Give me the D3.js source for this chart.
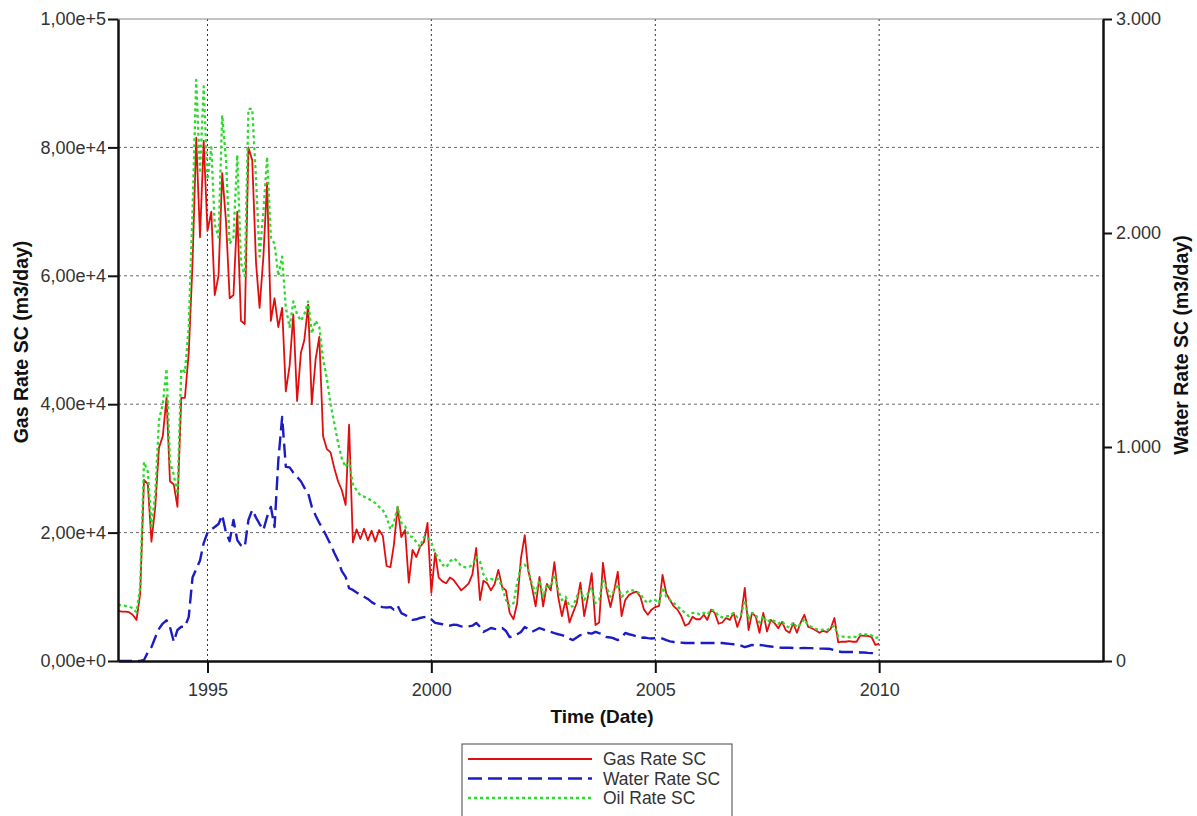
<!DOCTYPE html>
<html>
<head>
<meta charset="utf-8">
<script src="https://cdn.jsdelivr.net/npm/d3@7"></script>
<style>
  body { margin: 0; background: #fff; }
  svg { display: block; }
  text { font-family: "Liberation Sans", Arial, sans-serif; }
</style>
</head>
<body>
<svg id="chart" width="1197" height="816"></svg>
<script>
// Monthly well rates, starting January 1993.
const firstMonth = "1993-01";

// Gas rate, thousands of m3/day (one row per year)
const gasRateK = [
  7.8, 7.7, 7.7, 7.6, 7.2, 6.4, 10.5, 28.2, 27.6, 18.6, 24.0, 33.2,
  35.0, 41.0, 28.0, 27.5, 24.0, 41.0, 41.0, 48.0, 62.0, 81.5, 66.0, 81.0,
  67.0, 70.0, 57.0, 60.0, 76.0, 68.5, 56.5, 57.0, 70.0, 53.0, 52.5, 80.0,
  78.0, 62.0, 55.0, 63.0, 74.5, 53.0, 56.5, 52.0, 55.0, 42.0, 46.0, 54.0,
  40.5, 48.0, 50.0, 55.5, 40.0, 47.0, 50.5, 35.0, 33.0, 32.5, 30.0, 28.0,
  26.6, 24.3, 36.8, 18.5, 20.5, 19.0, 20.6, 18.8, 20.3, 18.6, 20.4, 19.5,
  14.8, 14.6, 18.0, 24.0, 19.3, 20.4, 12.2, 17.3, 16.2, 17.8, 18.5, 21.5,
  10.6, 16.8, 13.0, 12.4, 12.1, 13.0, 12.6, 11.8, 11.0, 11.5, 12.1, 13.5,
  17.6, 9.5, 12.5, 12.1, 11.0, 12.0, 14.2, 11.5, 11.0, 7.5, 6.5, 9.0,
  16.0, 19.6, 14.2, 11.5, 8.5, 13.1, 8.5, 12.0, 11.0, 15.4, 10.0, 7.0,
  9.5, 6.0, 7.5, 9.0, 12.2, 7.0, 10.0, 13.7, 5.6, 6.0, 15.3, 11.0,
  8.4, 11.0, 13.9, 7.0, 9.5, 10.3, 10.6, 10.8, 10.0, 8.0, 7.2, 8.0,
  8.4, 8.6, 13.4, 10.5, 9.5, 8.5, 8.0, 7.0, 5.5, 5.8, 6.9, 6.5,
  6.5, 7.2, 6.4, 8.0, 7.5, 5.8, 6.0, 6.7, 6.4, 7.5, 5.3, 6.9,
  11.4, 4.8, 7.5, 6.9, 4.4, 7.5, 4.6, 6.4, 5.9, 5.1, 6.1, 4.8,
  4.4, 5.9, 4.4, 6.0, 7.2, 5.3, 5.1, 4.8, 4.4, 4.7, 4.5, 5.0,
  6.7, 2.9, 3.0, 3.0, 3.1, 3.0, 3.0, 4.0, 3.9, 3.9, 3.7, 2.5,
  2.7
];

// Water rate, m3/day
const waterRate = [
  0, 0, 0, 0, 0, 0, 0, 5, 40, 65, 110, 150,
  175, 190, 159, 90, 145, 160, 159, 206, 390, 430, 470, 551,
  600, 615, 626, 640, 682, 600, 560, 659, 565, 540, 533, 659,
  706, 670, 640, 612, 673, 720, 626, 939, 1140, 907, 905, 880,
  860, 840, 810, 785, 720, 680, 645, 615, 579, 545, 505, 470,
  420, 393, 340, 332, 320, 310, 300, 290, 275, 265, 255, 252,
  250, 252, 240, 258, 224, 215, 205, 192, 195, 201, 205, 206,
  195, 178, 175, 172, 168, 165, 170, 168, 162, 159, 162, 165,
  178, 160, 136, 145, 154, 150, 148, 154, 140, 112, 115, 125,
  136, 159, 150, 136, 145, 154, 148, 140, 136, 130, 125, 121,
  115, 105, 98, 110, 121, 125, 131, 128, 136, 130, 125, 112,
  110, 105, 98, 110, 131, 125, 121, 115, 107, 110, 107, 105,
  107, 107, 105, 98, 92, 89, 88, 86, 84, 84, 84, 84,
  84, 84, 84, 84, 84, 84, 84, 82, 80, 78, 76, 72,
  65, 70, 75, 72, 75, 73, 70, 68, 65, 63, 62, 62,
  62, 61, 60, 60, 61, 60, 60, 58, 58, 58, 57, 56,
  50, 45, 42, 42, 42, 42, 42, 40, 40, 38, 37, 37,
  37
];

// Oil rate, plotted against the left axis (thousands)
const oilRateK = [
  8.7, 8.7, 8.6, 8.5, 8.2, 7.6, 11.5, 31.0, 29.5, 21.0, 26.0, 37.5,
  40.0, 45.5, 31.0, 29.0, 26.0, 45.5, 45.0, 52.0, 70.0, 90.5, 76.0, 89.5,
  75.0, 80.0, 68.0, 66.0, 85.0, 78.0, 65.0, 66.0, 78.8, 62.0, 60.0, 86.0,
  86.0, 75.0, 63.0, 70.0, 78.5, 66.0, 65.0, 60.0, 63.0, 55.0, 52.0, 56.0,
  54.0, 53.0, 54.0, 56.0, 51.0, 53.0, 52.0, 47.0, 44.0, 40.0, 37.0, 34.0,
  31.5, 30.2, 31.3, 27.5, 26.6, 25.8, 25.6, 25.3, 25.0, 24.6, 24.0, 23.5,
  22.4, 20.5, 21.5, 24.0, 21.5, 21.0, 19.5, 19.3, 18.5, 17.8, 19.3, 19.3,
  18.5, 16.8, 16.0, 15.0, 14.6, 15.5, 16.0, 15.5, 14.8, 14.6, 14.6, 15.0,
  16.2, 15.5, 13.5, 12.6, 12.8, 12.6, 12.8, 11.5, 9.5, 8.5, 9.0, 12.2,
  14.6, 15.0, 14.2, 12.0, 10.5, 12.6, 10.0, 12.0, 11.5, 13.5, 11.0, 9.5,
  10.0, 8.5, 8.5, 10.0, 11.0, 9.5, 10.5, 11.5, 9.0, 9.5, 12.5, 11.5,
  10.0, 11.0, 12.0, 10.0, 10.5, 11.0, 11.0, 10.8, 10.5, 9.5, 9.0, 9.5,
  9.5, 9.0, 11.5, 10.0, 9.5, 9.0, 8.5, 8.0, 7.5, 7.0, 7.5, 7.5,
  7.2, 7.5, 7.2, 8.0, 7.8, 7.0, 6.8, 7.0, 7.0, 7.5, 6.8, 7.2,
  9.5, 6.5, 7.5, 7.2, 6.0, 7.0, 6.0, 6.5, 6.2, 5.8, 6.2, 5.5,
  5.2, 6.0, 5.2, 5.8, 6.5, 5.5, 5.3, 5.0, 4.8, 4.9, 4.8, 5.2,
  5.5, 3.8, 3.8, 3.8, 3.7, 3.8, 3.7, 4.2, 4.2, 4.1, 4.0, 3.6,
  3.7
];

const yearTicks = [1995, 2000, 2005, 2010];
const gasTicks = [0, 20000, 40000, 60000, 80000, 100000];
const waterTicks = [0, 1000, 2000, 3000];
const timeDomain = ["1993-01", "2015-01"];
const legendLabels = ["Gas Rate SC", "Water Rate SC", "Oil Rate SC"];

const svg = d3.select("#chart");
const L = 118, R = 1103, T = 19, B = 661;

const parseMonth = d3.timeParse("%Y-%m");
const start = parseMonth(firstMonth);
const rows = gasRateK.map((g, i) => ({
  date: d3.timeMonth.offset(start, i),
  gas: g * 1000,
  water: waterRate[i],
  oil: oilRateK[i] * 1000
}));

const x = d3.scaleTime().domain(timeDomain.map(parseMonth)).range([L, R]);
const yGas = d3.scaleLinear().domain([0, 100000]).range([B, T]);
const yWater = d3.scaleLinear().domain([0, 3000]).range([B, T]);

// grid
const grid = svg.append("g");
grid.selectAll("line.h").data(gasTicks.filter(v => v > 0 && v < 100000)).join("line")
  .attr("x1", L).attr("x2", R)
  .attr("y1", d => yGas(d)).attr("y2", d => yGas(d))
  .attr("stroke", "#6a6a6a").attr("stroke-width", 1).attr("stroke-dasharray", "3,3");
grid.selectAll("line.v").data(yearTicks).join("line")
  .attr("x1", d => x(new Date(d, 0, 1))).attr("x2", d => x(new Date(d, 0, 1)))
  .attr("y1", T).attr("y2", B)
  .attr("stroke", "#333").attr("stroke-width", 1).attr("stroke-dasharray", "2,3");
// top frame line
svg.append("line").attr("x1", L).attr("x2", R).attr("y1", T).attr("y2", T)
  .attr("stroke", "#888").attr("stroke-width", 1.2);

// series
const series = [
  { key: "gas", scale: yGas, color: "#e00f0f", width: 1.8, dash: null },
  { key: "water", scale: yWater, color: "#1c1cc4", width: 2.4, dash: "14,6" },
  { key: "oil", scale: yGas, color: "#2fd82f", width: 2.3, dash: "3,3" }
];
const plot = svg.append("g");
series.forEach(s => {
  plot.append("path")
    .datum(rows)
    .attr("fill", "none")
    .attr("stroke", s.color)
    .attr("stroke-width", s.width)
    .attr("stroke-dasharray", s.dash)
    .attr("stroke-linejoin", "round")
    .attr("d", d3.line().x(d => x(d.date)).y(d => s.scale(d[s.key])));
});

// axes
const sci = v => v.toExponential(2).replace(".", ",");
const dotLocale = d3.formatLocale({ decimal: ",", thousands: ".", grouping: [3], currency: ["", ""] });
const dotFmt = dotLocale.format(",d");

function styleAxis(g) {
  g.select(".domain").attr("stroke", "#111").attr("stroke-width", 2.5);
  g.selectAll(".tick line").attr("stroke", "#111").attr("stroke-width", 2);
  g.selectAll(".tick text").attr("fill", "#333").attr("font-size", 18)
    .attr("font-family", '"Liberation Sans", Arial, sans-serif');
}

svg.append("g").attr("transform", `translate(${L},0)`)
  .call(d3.axisLeft(yGas).tickValues(gasTicks).tickFormat(sci).tickSize(10).tickSizeOuter(0).tickPadding(2))
  .call(styleAxis);

svg.append("g").attr("transform", `translate(${R},0)`)
  .call(d3.axisRight(yWater).tickValues(waterTicks).tickFormat(dotFmt).tickSize(9).tickSizeOuter(0).tickPadding(4))
  .call(styleAxis);

svg.append("g").attr("transform", `translate(0,${B})`)
  .call(d3.axisBottom(x).tickValues(yearTicks.map(yr => new Date(yr, 0, 1)))
    .tickFormat(d3.timeFormat("%Y")).tickSize(12).tickSizeOuter(0).tickPadding(10))
  .call(styleAxis);

// axis titles
svg.append("text").attr("transform", `translate(28,${(T + B) / 2 + 2}) rotate(-90)`)
  .attr("text-anchor", "middle").attr("font-size", 19.5).attr("font-weight", "bold").attr("fill", "#111")
  .text("Gas Rate SC (m3/day)");
svg.append("text").attr("transform", `translate(1188,${(T + B) / 2 + 5}) rotate(-90)`)
  .attr("text-anchor", "middle").attr("font-size", 19.5).attr("font-weight", "bold").attr("fill", "#111")
  .text("Water Rate SC (m3/day)");
svg.append("text").attr("x", 602).attr("y", 723)
  .attr("text-anchor", "middle").attr("font-size", 19).attr("font-weight", "bold").attr("fill", "#111")
  .text("Time (Date)");

// legend
const lg = svg.append("g");
lg.append("rect").attr("x", 462).attr("y", 744).attr("width", 270).attr("height", 90)
  .attr("fill", "#fff").attr("stroke", "#444").attr("stroke-width", 1);
legendLabels.forEach((label, i) => {
  const s = series[i];
  const yy = 759 + i * 19.5;
  lg.append("line").attr("x1", 468).attr("x2", 592).attr("y1", yy).attr("y2", yy)
    .attr("stroke", s.color).attr("stroke-width", s.width).attr("stroke-dasharray", s.dash);
  lg.append("text").attr("x", 603).attr("y", yy + 6).attr("font-size", 17.5).attr("fill", "#333")
    .text(label);
});
</script>
</body>
</html>
